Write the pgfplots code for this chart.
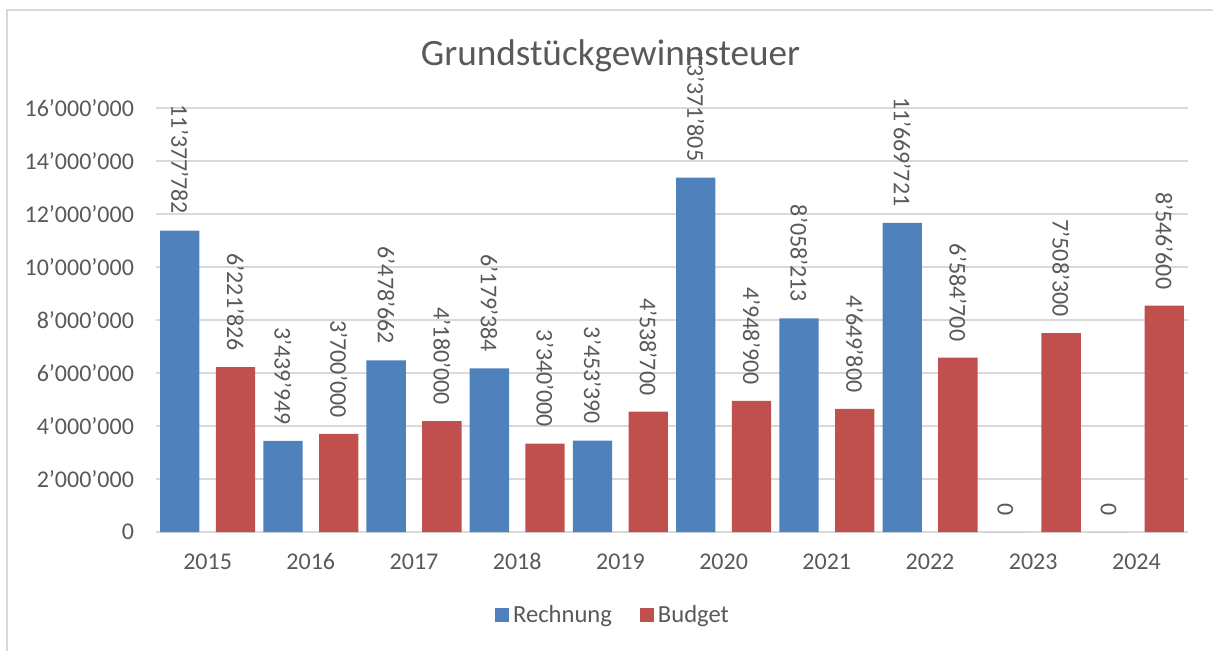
\documentclass[border=0pt]{standalone}
\usepackage{pgfplots}
\pgfplotsset{compat=1.18}
\usepackage{pgfplotstable}
\usepackage{fontspec}
\setmainfont{Carlito}
\definecolor{cblue}{HTML}{4F81BD}
\definecolor{cred}{HTML}{C0504D}
\definecolor{ctext}{HTML}{595959}
\definecolor{cgrid}{HTML}{D9D9D9}

\pgfplotstableread{
x y lab
0 11377782 11’377’782
1 3439949 3’439’949
2 6478662 6’478’662
3 6179384 6’179’384
4 3453390 3’453’390
5 13371805 13’371’805
6 8058213 8’058’213
7 11669721 11’669’721
8 0 0
9 0 0
}\rechnung

\pgfplotstableread{
x y lab
0 6221826 6’221’826
1 3700000 3’700’000
2 4180000 4’180’000
3 3340000 3’340’000
4 4538700 4’538’700
5 4948900 4’948’900
6 4649800 4’649’800
7 6584700 6’584’700
8 7508300 7’508’300
9 8546600 8’546’600
}\budget

\begin{document}
\begin{tikzpicture}
\path[use as bounding box] (0,0) rectangle (606.5pt,-325pt);
\draw[cgrid, line width=1pt] (3.5pt,-340pt) -- (3.5pt,-5pt) -- (620pt,-5pt);
\begin{axis}[
  at={(78pt,-266pt)}, anchor=south west,
  scale only axis, width=516pt, height=212pt,
  ybar, bar width=0.381,
  xmin=-0.5, xmax=9.5, ymin=0, ymax=16000000,
  axis line style={draw=none},
  major tick length=0pt,
  ymajorgrids, grid style={cgrid, line width=0.75pt},
  ytick={0,2000000,4000000,6000000,8000000,10000000,12000000,14000000,16000000},
  yticklabels={0,2’000’000,4’000’000,6’000’000,8’000’000,10’000’000,12’000’000,14’000’000,16’000’000},
  scaled y ticks=false,
  xtick={0,...,9},
  xticklabels={2015,2016,2017,2018,2019,2020,2021,2022,2023,2024},
  tick label style={font=\fontsize{12}{14}\selectfont, text=ctext},
  yticklabel style={xshift=-7.5pt},
  xticklabel style={yshift=-7.5pt, text height=7.8pt, text depth=0pt},
  point meta=explicit symbolic,
  nodes near coords,
  every node near coord/.append style={rotate=-90, anchor=east, inner xsep=8pt, font=\fontsize{12}{14}\selectfont, text=ctext},
  legend style={at={(0.4438,-0.196)}, anchor=center, draw=none, legend columns=2,
    font=\fontsize{12.3}{14}\selectfont, text=ctext,
    /tikz/every even column/.append style={column sep=12pt}},
  legend image code/.code={\fill[#1] (0pt,-3.5pt) rectangle (7pt,3.5pt);},
]
\addplot[fill=cblue, draw=none, bar shift=-0.27] table[x=x, y=y, meta=lab] {\rechnung};
\addplot[fill=cred, draw=none, bar shift=0.27] table[x=x, y=y, meta=lab] {\budget};
\legend{Rechnung, Budget}
\end{axis}
\node[anchor=base, font=\fontsize{18.6}{22}\selectfont, text=ctext] at (305.25pt,-32.5pt) {Grundstückgewinnsteuer};
\end{tikzpicture}
\end{document}
